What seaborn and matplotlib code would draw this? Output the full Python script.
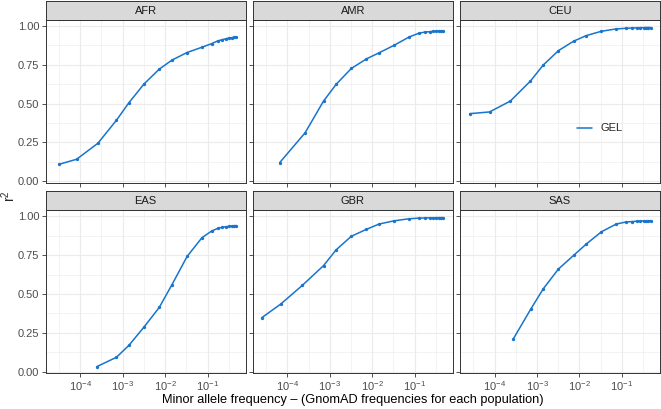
import numpy as np
import pandas as pd
import matplotlib
matplotlib.use('Agg')
import matplotlib.pyplot as plt
import matplotlib.ticker as mticker
import seaborn as sns

# populations in facet order
populations = ['AFR', 'AMR', 'CEU', 'EAS', 'GBR', 'SAS']

# minor allele frequency bins (x) and imputation r^2 (y)
afr_maf = [3.2e-5, 8.2e-5, 2.6e-4, 7.1e-4, 1.4e-3, 3.2e-3, 7.3e-3, 1.45e-2, 3.3e-2, 7.4e-2,
           0.125, 0.175, 0.225, 0.275, 0.325, 0.375, 0.425, 0.475]
afr_r2 = [0.109, 0.141, 0.244, 0.392, 0.505, 0.627, 0.722, 0.780, 0.829, 0.863,
          0.886, 0.904, 0.912, 0.918, 0.923, 0.925, 0.927, 0.929]

amr_maf = [6.6e-5, 2.6e-4, 7.1e-4, 1.4e-3, 3.2e-3, 7.3e-3, 1.45e-2, 3.3e-2, 7.4e-2,
           0.125, 0.175, 0.225, 0.275, 0.325, 0.375, 0.425, 0.475]
amr_r2 = [0.120, 0.311, 0.516, 0.623, 0.726, 0.788, 0.827, 0.876, 0.929,
          0.953, 0.961, 0.963, 0.966, 0.967, 0.968, 0.968, 0.969]

ceu_maf = [2.6e-5, 7.6e-5, 2.35e-4, 7.0e-4, 1.4e-3, 3.2e-3, 7.3e-3, 1.45e-2, 3.3e-2, 7.4e-2,
           0.125, 0.175, 0.225, 0.275, 0.325, 0.375, 0.425, 0.475]
ceu_r2 = [0.435, 0.446, 0.516, 0.645, 0.748, 0.841, 0.902, 0.938, 0.966, 0.981,
          0.985, 0.987, 0.988, 0.989, 0.989, 0.990, 0.990, 0.990]

eas_maf = [2.45e-4, 7.1e-4, 1.4e-3, 3.2e-3, 7.3e-3, 1.45e-2, 3.3e-2, 7.4e-2,
           0.125, 0.175, 0.225, 0.275, 0.325, 0.375, 0.425, 0.475]
eas_r2 = [0.032, 0.092, 0.169, 0.288, 0.414, 0.560, 0.742, 0.863,
          0.906, 0.923, 0.930, 0.934, 0.936, 0.938, 0.940, 0.941]

gbr_maf = [2.5e-5, 7.0e-5, 2.25e-4, 7.1e-4, 1.4e-3, 3.2e-3, 7.3e-3, 1.45e-2, 3.3e-2, 7.4e-2,
           0.125, 0.175, 0.225, 0.275, 0.325, 0.375, 0.425, 0.475]
gbr_r2 = [0.348, 0.436, 0.556, 0.683, 0.784, 0.872, 0.917, 0.951, 0.972, 0.985,
          0.989, 0.990, 0.991, 0.991, 0.992, 0.992, 0.992, 0.992]

sas_maf = [2.75e-4, 7.2e-4, 1.4e-3, 3.2e-3, 7.3e-3, 1.45e-2, 3.3e-2, 7.4e-2,
           0.125, 0.175, 0.225, 0.275, 0.325, 0.375, 0.425, 0.475]
sas_r2 = [0.210, 0.405, 0.533, 0.661, 0.749, 0.822, 0.901, 0.951,
          0.964, 0.967, 0.969, 0.970, 0.971, 0.972, 0.972, 0.973]

x_breaks = [1e-4, 1e-3, 1e-2, 1e-1]
x_labels = ['$10^{-4}$', '$10^{-3}$', '$10^{-2}$', '$10^{-1}$']
y_breaks = [0.0, 0.25, 0.5, 0.75, 1.0]
y_labels = ['0.00', '0.25', '0.50', '0.75', '1.00']

maf = {'AFR': afr_maf, 'AMR': amr_maf, 'CEU': ceu_maf, 'EAS': eas_maf, 'GBR': gbr_maf, 'SAS': sas_maf}
r2 = {'AFR': afr_r2, 'AMR': amr_r2, 'CEU': ceu_r2, 'EAS': eas_r2, 'GBR': gbr_r2, 'SAS': sas_r2}
df = pd.concat([pd.DataFrame({'pop': p, 'maf': maf[p], 'r2': r2[p], 'panel': 'GEL'}) for p in populations])

sns.set_style('white')
plt.rcParams['font.family'] = ['Liberation Sans', 'DejaVu Sans']
plt.rcParams['mathtext.fontset'] = 'custom'
plt.rcParams['mathtext.rm'] = 'Liberation Sans'
plt.rcParams['mathtext.it'] = 'Liberation Sans:italic'

W, H = 661, 409
fig, axes = plt.subplots(2, 3, figsize=(W / 100, H / 100), dpi=100, sharex=True, sharey=True)
fig.subplots_adjust(left=45.5 / W, right=660 / W, bottom=(H - 373) / H, top=(H - 20) / H,
                    wspace=7 / 200.5, hspace=28 / 163)

line_col = '#1874CD'
dark = '#333333'
fs = 8.0
for ax, p in zip(axes.flat, populations):
    sub = df[df['pop'] == p]
    sns.lineplot(data=sub, x='maf', y='r2', hue='panel', palette=[line_col], marker='o',
                 markersize=2.4, markeredgewidth=0, linewidth=1.1, ax=ax, legend=(p == 'CEU'))
    ax.set_xscale('log')
    ax.set_xlim(10 ** -4.82, 10 ** -0.10)
    ax.set_ylim(-0.009, 1.0385)
    ax.xaxis.set_major_locator(mticker.FixedLocator(x_breaks))
    ax.xaxis.set_minor_locator(mticker.FixedLocator([10 ** -4.5, 10 ** -3.5, 10 ** -2.5, 10 ** -1.5, 10 ** -0.5]))
    ax.set_xticks(x_breaks)
    ax.set_xticklabels(x_labels)
    ax.set_yticks(y_breaks)
    ax.set_yticklabels(y_labels)
    ax.yaxis.set_minor_locator(mticker.FixedLocator([0.125, 0.375, 0.625, 0.875]))
    ax.grid(True, which='major', color='#EBEBEB', linewidth=0.8)
    ax.grid(True, which='minor', color='#EBEBEB', linewidth=0.4)
    ax.set_axisbelow(True)
    ax.tick_params(which='major', length=3, width=0.6, color=dark, labelsize=fs,
                   labelcolor='#4D4D4D', pad=1.5)
    ax.tick_params(which='minor', length=0)
    ax.tick_params(axis='x', which='major', bottom=True)
    ax.tick_params(axis='y', which='major', left=True)
    for s in ax.spines.values():
        s.set_color(dark)
        s.set_linewidth(0.7)
    ax.set_xlabel('')
    ax.set_ylabel('')

    # facet strip
    pos = ax.get_position()
    strip = fig.add_axes([pos.x0, pos.y1, pos.width, 19 / H])
    strip.set_facecolor('#D9D9D9')
    strip.set_xticks([])
    strip.set_yticks([])
    for s in strip.spines.values():
        s.set_color(dark)
        s.set_linewidth(0.7)
    strip.text(0.5, 0.5, p, ha='center', va='center', fontsize=fs, color='#1A1A1A')

# legend inside CEU panel, no title
ceu_ax = axes[0, 2]
handles, labels = ceu_ax.get_legend_handles_labels()
ceu_ax.legend(handles, labels, loc='center left', bbox_to_anchor=((577 - 460) / 200, 1 - (128.7 - 20) / 163),
              frameon=False, fontsize=fs, handlelength=1.4, handletextpad=0.75, borderpad=0, borderaxespad=0)
for h in ceu_ax.get_legend().legend_handles:
    h.set_marker('')

fig.text(352.5 / W, 1 - 400 / H, 'Minor allele frequency \u2013 (GnomAD frequencies for each population)',
         ha='center', va='center', fontsize=9.2, color='black')
fig.text(9 / W, 1 - 196.5 / H, 'r$^{2}$', ha='center', va='center', rotation=90, fontsize=10)

fig.savefig('out.png', dpi=100)
